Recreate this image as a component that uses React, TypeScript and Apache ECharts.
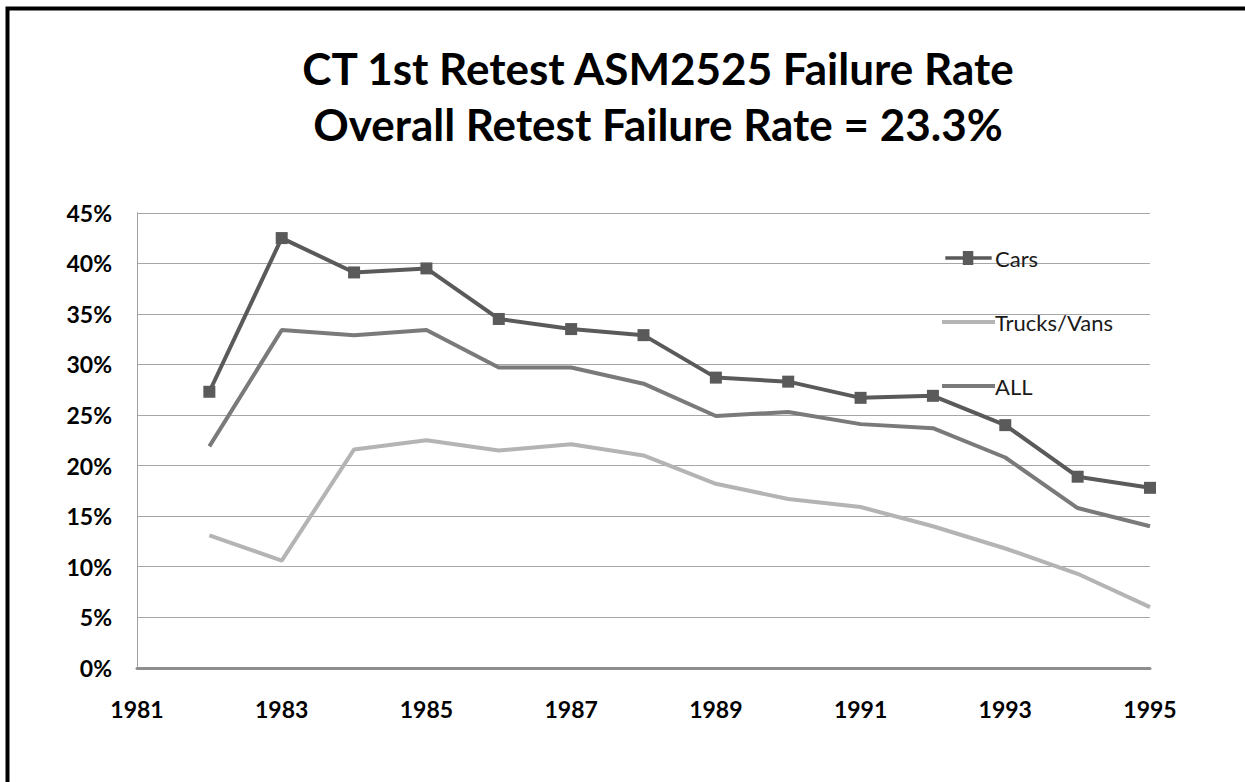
import React, { useEffect, useRef } from "react";
import * as echarts from "echarts";

const years = [1982, 1983, 1984, 1985, 1986, 1987, 1988, 1989, 1990, 1991, 1992, 1993, 1994, 1995];
const cars = [27.3, 42.5, 39.1, 39.5, 34.5, 33.5, 32.9, 28.7, 28.3, 26.7, 26.9, 24.0, 18.9, 17.8];
const trucksVans = [13.1, 10.6, 21.6, 22.5, 21.5, 22.1, 21.0, 18.2, 16.7, 15.9, 14.0, 11.8, 9.3, 6.0];
const allVehicles = [21.9, 33.4, 32.9, 33.4, 29.7, 29.7, 28.1, 24.9, 25.3, 24.1, 23.7, 20.8, 15.8, 14.0];
const seriesNames = ["Cars", "Trucks/Vans", "ALL"];
const titleLines = ["CT 1st Retest ASM2525 Failure Rate", "Overall Retest Failure Rate = 23.3%"];

const pairs = (vals: number[]) => years.map((y, i) => [y, vals[i]]);

const lineIcon = "path://M0,0L53,0L53,4L0,4Z";
const markerLineIcon = "path://M0,5L20,5L20,-1L32,-1L32,5L53,5L53,9L32,9L32,15L20,15L20,9L0,9Z";

export default function App() {
  const ref = useRef<HTMLDivElement>(null);
  useEffect(() => {
    document.body.style.margin = "0";
    const chart = echarts.init(ref.current!, null, { renderer: "svg" });
    const font = "Lato, 'Liberation Sans', sans-serif";
    chart.setOption({
      animation: false,
      backgroundColor: "#ffffff",
      graphic: [
        {
          type: "polyline",
          shape: { points: [[7.5, 790], [7.5, 8.5], [1245, 8.5]] },
          style: { fill: "none", stroke: "#000000", lineWidth: 4 },
          silent: true,
        },
        {
          type: "text",
          x: 658,
          y: 40,
          style: {
            text: titleLines.join("\n"),
            font: `bold 44px ${font}`,
            fill: "#000000",
            align: "center",
            verticalAlign: "top",
            lineHeight: 56,
          },
        },
      ],
      legend: {
        data: [
          { name: seriesNames[0], icon: markerLineIcon },
          { name: seriesNames[1], icon: lineIcon },
          { name: seriesNames[2], icon: lineIcon },
        ],
        orient: "vertical",
        left: 937,
        top: 241,
        itemWidth: 53,
        itemHeight: 14,
        itemGap: 40,
        textStyle: { fontFamily: font, fontSize: 22, color: "#1a1a1a", lineHeight: 24, padding: [0, 0, 0, -5] },
      },
      grid: { left: 137, right: 95, top: 212.8, bottom: 114.2, containLabel: false },
      xAxis: {
        type: "value",
        min: 1981,
        max: 1995,
        interval: 2,
        axisLine: { show: true, lineStyle: { color: "#8e8e8e", width: 3 } },
        axisTick: { show: false },
        splitLine: { show: false },
        axisLabel: {
          formatter: (v: number) => String(v),
          fontFamily: font,
          fontWeight: "bold",
          fontSize: 23,
          color: "#000000",
          margin: 30,
        },
      },
      yAxis: {
        type: "value",
        min: 0,
        max: 45,
        interval: 5,
        axisLine: { show: true, lineStyle: { color: "#a0a0a0", width: 1 } },
        axisTick: { show: false },
        splitLine: { show: true, lineStyle: { color: "#a6a6a6", width: 1 } },
        axisLabel: {
          formatter: "{value}%",
          fontFamily: font,
          fontWeight: "bold",
          fontSize: 23,
          color: "#000000",
          margin: 25,
        },
      },
      series: [
        {
          name: seriesNames[0],
          type: "line",
          data: pairs(cars),
          symbol: "rect",
          symbolSize: 12,
          showSymbol: true,
          lineStyle: { color: "#5a5a5a", width: 4 },
          itemStyle: { color: "#5a5a5a" },
          z: 4,
        },
        {
          name: seriesNames[1],
          type: "line",
          data: pairs(trucksVans),
          symbol: "none",
          lineStyle: { color: "#b4b4b4", width: 4 },
          itemStyle: { color: "#b4b4b4" },
          z: 2,
        },
        {
          name: seriesNames[2],
          type: "line",
          data: pairs(allVehicles),
          symbol: "none",
          lineStyle: { color: "#7a7a7a", width: 4 },
          itemStyle: { color: "#7a7a7a" },
          z: 3,
        },
      ],
    });
    return () => chart.dispose();
  }, []);
  return (
    <div
      ref={ref}
      style={{ position: "absolute", left: 0, top: 0, width: 1245, height: 782 }}
    />
  );
}
